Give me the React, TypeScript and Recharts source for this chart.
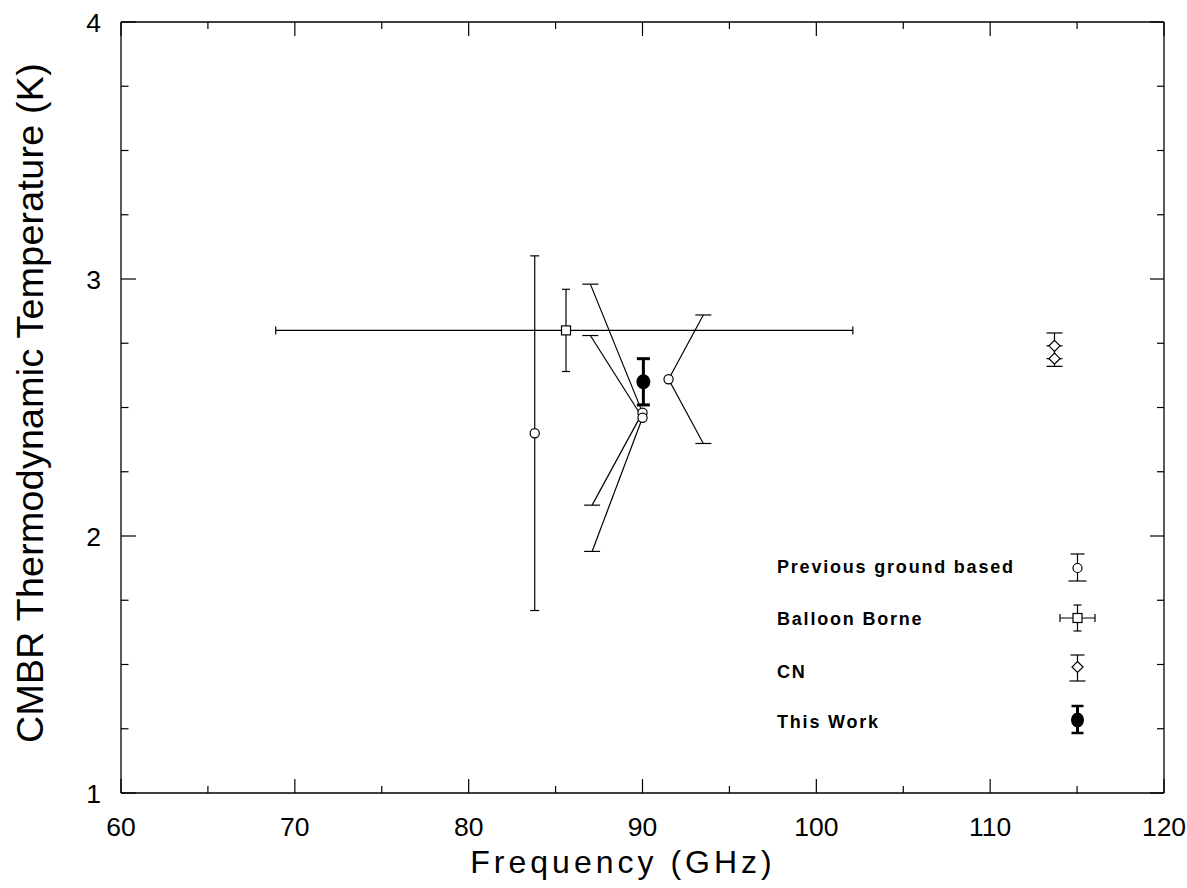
import React from 'react';
import { ScatterChart, Scatter, XAxis, YAxis, Legend } from 'recharts';

const FONT = '"Liberation Sans", Arial, Helvetica, sans-serif';

// ---- data ----
const groundFreq = [83.8, 90.0, 90.0, 91.5];
const groundTemp = [2.4, 2.48, 2.46, 2.61];
const groundUpperFreq = [83.8, 87.0, 87.0, 93.5];
const groundUpperTemp = [3.09, 2.98, 2.78, 2.86];
const groundLowerFreq = [83.8, 87.1, 87.1, 93.5];
const groundLowerTemp = [1.71, 2.12, 1.94, 2.36];

const balloonFreq = [85.6];
const balloonTemp = [2.8];
const balloonTempLow = [2.64];
const balloonTempHigh = [2.96];
const balloonFreqLow = [68.9];
const balloonFreqHigh = [102.1];

const cnFreq = [113.7, 113.7];
const cnTemp = [2.74, 2.69];
const cnTempLow = [2.69, 2.66];
const cnTempHigh = [2.79, 2.74];

const thisFreq = [90.05];
const thisTemp = [2.6];
const thisTempLow = [2.51];
const thisTempHigh = [2.69];

const xTicks = [60, 65, 70, 75, 80, 85, 90, 95, 100, 105, 110, 115, 120];
const xLabels = [60, 70, 80, 90, 100, 110, 120];
const yTicks = [1, 1.25, 1.5, 1.75, 2, 2.25, 2.5, 2.75, 3, 3.25, 3.5, 3.75, 4];
const yLabels = [1, 2, 3, 4];
const legendLabels = ['Previous ground based', 'Balloon Borne', 'CN', 'This Work'];

// ---- derived tables ----
type Pt = { x: number; y: number; cap?: 'h' | 'v' };
type Seg = { key: string; pts: Pt[]; half: number; w: number };

const segments: Seg[] = [];
groundFreq.forEach((f, i) => {
  const half = i === 0 ? 4.5 : 8;
  segments.push({
    key: `gu${i}`,
    pts: [{ x: f, y: groundTemp[i] }, { x: groundUpperFreq[i], y: groundUpperTemp[i], cap: 'h' }],
    half,
    w: 1.2,
  });
  segments.push({
    key: `gl${i}`,
    pts: [{ x: f, y: groundTemp[i] }, { x: groundLowerFreq[i], y: groundLowerTemp[i], cap: 'h' }],
    half,
    w: 1.2,
  });
});
balloonFreq.forEach((f, i) => {
  segments.push({
    key: `bv${i}`,
    pts: [{ x: f, y: balloonTempLow[i], cap: 'h' }, { x: f, y: balloonTempHigh[i], cap: 'h' }],
    half: 4,
    w: 1.2,
  });
  segments.push({
    key: `bh${i}`,
    pts: [{ x: balloonFreqLow[i], y: balloonTemp[i], cap: 'v' }, { x: balloonFreqHigh[i], y: balloonTemp[i], cap: 'v' }],
    half: 4,
    w: 1.2,
  });
});
cnFreq.forEach((f, i) => {
  segments.push({
    key: `cn${i}`,
    pts: [{ x: f, y: cnTempLow[i], cap: 'h' }, { x: f, y: cnTempHigh[i], cap: 'h' }],
    half: 8,
    w: 1.2,
  });
});
thisFreq.forEach((f, i) => {
  segments.push({
    key: `tw${i}`,
    pts: [{ x: f, y: thisTempLow[i], cap: 'h' }, { x: f, y: thisTempHigh[i], cap: 'h' }],
    half: 6.5,
    w: 3,
  });
});

const groundData = groundFreq.map((x, i) => ({ x, y: groundTemp[i] }));
const balloonData = balloonFreq.map((x, i) => ({ x, y: balloonTemp[i] }));
const cnData = cnFreq.map((x, i) => ({ x, y: cnTemp[i] }));
const thisData = thisFreq.map((x, i) => ({ x, y: thisTemp[i] }));

// ---- shapes ----
const capShape = (half: number, w: number) => (p: any) => {
  const { cx, cy, payload } = p;
  if (payload && payload.cap === 'h')
    return <line x1={cx - half} x2={cx + half} y1={cy} y2={cy} stroke="#000" strokeWidth={w} />;
  if (payload && payload.cap === 'v')
    return <line x1={cx} x2={cx} y1={cy - half} y2={cy + half} stroke="#000" strokeWidth={w} />;
  return <g />;
};
const circleShape = (p: any) => (
  <circle cx={p.cx} cy={p.cy} r={4.6} fill="#fff" stroke="#000" strokeWidth={1.2} />
);
const squareShape = (p: any) => (
  <rect x={p.cx - 4.5} y={p.cy - 4.5} width={9} height={9} fill="#fff" stroke="#000" strokeWidth={1.2} />
);
const diamondShape = (p: any) => (
  <path
    d={`M${p.cx},${p.cy - 5.5}L${p.cx + 5.5},${p.cy}L${p.cx},${p.cy + 5.5}L${p.cx - 5.5},${p.cy}Z`}
    fill="#fff"
    stroke="#000"
    strokeWidth={1.2}
  />
);
const filledShape = (p: any) => <ellipse cx={p.cx} cy={p.cy} rx={7} ry={7.5} fill="#000" />;

// ---- ticks ----
const BottomTick = (p: any) => {
  const v = p.payload.value;
  const major = xLabels.includes(v);
  return (
    <g>
      <line x1={p.x} x2={p.x} y1={p.y} y2={p.y - (major ? 14 : 7)} stroke="#000" strokeWidth={1.2} />
      {major && (
        <text x={p.x} y={p.y + 43} textAnchor="middle" fontSize={26.5} fontFamily={FONT} fill="#000">
          {v}
        </text>
      )}
    </g>
  );
};
const TopTick = (p: any) => {
  const v = p.payload.value;
  const major = xLabels.includes(v);
  return <line x1={p.x} x2={p.x} y1={p.y} y2={p.y + (major ? 14 : 7)} stroke="#000" strokeWidth={1.2} />;
};
const LeftTick = (p: any) => {
  const v = p.payload.value;
  const major = yLabels.includes(v);
  return (
    <g>
      <line x1={p.x} x2={p.x + (major ? 15 : 7.5)} y1={p.y} y2={p.y} stroke="#000" strokeWidth={1.2} />
      {major && (
        <text x={p.x - 20} y={p.y + 9.5} textAnchor="end" fontSize={26.5} fontFamily={FONT} fill="#000">
          {v}
        </text>
      )}
    </g>
  );
};
const RightTick = (p: any) => {
  const v = p.payload.value;
  const major = yLabels.includes(v);
  return <line x1={p.x} x2={p.x - (major ? 14 : 7)} y1={p.y} y2={p.y} stroke="#000" strokeWidth={1.2} />;
};

const XTitle = () => (
  <text x={623} y={873} textAnchor="middle" fontSize={32} fontFamily={FONT} letterSpacing="4" fill="#000">
    Frequency (GHz)
  </text>
);
const YTitle = () => (
  <text
    transform="rotate(-90)"
    x={-403}
    y={43}
    textAnchor="middle"
    fontSize={37.5}
    fontFamily={FONT}
    letterSpacing="0.3"
    fill="#000"
  >
    CMBR Thermodynamic Temperature (K)
  </text>
);

// ---- legend ----
const LegendBox = () => {
  const ox = 760;
  const oy = 540;
  const rows = [573, 625, 678, 728];
  const sx = 1077.5 - ox;
  const L = (x1: number, y1: number, x2: number, y2: number, w = 1.2) => (
    <line x1={x1} y1={y1} x2={x2} y2={y2} stroke="#000" strokeWidth={w} />
  );
  return (
    <svg width={360} height={210} style={{ display: 'block' }}>
      {legendLabels.map((t, i) => (
        <text
          key={t}
          x={777 - ox}
          y={rows[i] - oy}
          fontSize={18}
          fontWeight="bold"
          letterSpacing="1.8"
          fontFamily={FONT}
          fill="#000"
        >
          {t}
        </text>
      ))}
      {/* previous ground based */}
      {L(sx, 554 - oy, sx, 581 - oy)}
      {L(sx - 7, 554 - oy, sx + 7, 554 - oy)}
      {L(sx - 9, 581 - oy, sx + 9, 581 - oy)}
      <circle cx={sx} cy={568 - oy} r={4.5} fill="#fff" stroke="#000" strokeWidth={1.2} />
      {/* balloon */}
      {L(sx, 605 - oy, sx, 631 - oy)}
      {L(sx - 4, 605 - oy, sx + 4, 605 - oy)}
      {L(sx - 4, 631 - oy, sx + 4, 631 - oy)}
      {L(1060 - ox, 618 - oy, 1095 - ox, 618 - oy)}
      {L(1060 - ox, 614 - oy, 1060 - ox, 622 - oy)}
      {L(1095 - ox, 614 - oy, 1095 - ox, 622 - oy)}
      <rect x={sx - 4.5} y={618 - oy - 4.5} width={9} height={9} fill="#fff" stroke="#000" strokeWidth={1.2} />
      {/* CN */}
      {L(sx, 655 - oy, sx, 681 - oy)}
      {L(sx - 7, 655 - oy, sx + 7, 655 - oy)}
      {L(sx - 8, 681 - oy, sx + 8, 681 - oy)}
      <path
        d={`M${sx},${667 - oy - 5.5}L${sx + 5.5},${667 - oy}L${sx},${667 - oy + 5.5}L${sx - 5.5},${667 - oy}Z`}
        fill="#fff"
        stroke="#000"
        strokeWidth={1.2}
      />
      {/* this work */}
      {L(sx, 706 - oy, sx, 733 - oy, 3)}
      {L(sx - 6, 706 - oy, sx + 6, 706 - oy, 2.5)}
      {L(sx - 6, 733 - oy, sx + 6, 733 - oy, 2.5)}
      <ellipse cx={sx} cy={720 - oy} rx={6.5} ry={7.5} fill="#000" />
    </svg>
  );
};

export default function App() {
  return (
    <div style={{ width: 1187, height: 888, background: '#fff' }}>
      <style>{'body{margin:0;background:#fff}'}</style>
      <ScatterChart width={1187} height={888} margin={{ top: 0, right: 0, bottom: 0, left: 0 }}>
        <XAxis
          xAxisId={0}
          type="number"
          dataKey="x"
          domain={[60, 120]}
          allowDataOverflow
          ticks={xTicks}
          interval={0}
          tickSize={0}
          tickMargin={0}
          tickLine={false}
          height={95}
          axisLine={{ stroke: '#000', strokeWidth: 1.3 }}
          tick={BottomTick}
          label={<XTitle />}
        />
        <XAxis
          xAxisId="top"
          orientation="top"
          type="number"
          dataKey="x"
          domain={[60, 120]}
          allowDataOverflow
          ticks={xTicks}
          interval={0}
          tickSize={0}
          tickMargin={0}
          tickLine={false}
          height={22}
          axisLine={{ stroke: '#000', strokeWidth: 1.3 }}
          tick={TopTick}
        />
        <YAxis
          yAxisId={0}
          type="number"
          dataKey="y"
          domain={[1, 4]}
          allowDataOverflow
          ticks={yTicks}
          interval={0}
          tickSize={0}
          tickMargin={0}
          tickLine={false}
          width={121}
          axisLine={{ stroke: '#000', strokeWidth: 1.3 }}
          tick={LeftTick}
          label={<YTitle />}
        />
        <YAxis
          yAxisId="right"
          orientation="right"
          type="number"
          dataKey="y"
          domain={[1, 4]}
          allowDataOverflow
          ticks={yTicks}
          interval={0}
          tickSize={0}
          tickMargin={0}
          tickLine={false}
          width={23}
          axisLine={{ stroke: '#000', strokeWidth: 1.3 }}
          tick={RightTick}
        />
        {segments.map((s) => (
          <Scatter
            key={s.key}
            data={s.pts}
            fill="#000"
            line={{ stroke: '#000', strokeWidth: s.w }}
            lineType="joint"
            shape={capShape(s.half, s.w)}
            isAnimationActive={false}
            legendType="none"
          />
        ))}
        <Scatter data={groundData} shape={circleShape} isAnimationActive={false} name={legendLabels[0]} />
        <Scatter data={balloonData} shape={squareShape} isAnimationActive={false} name={legendLabels[1]} />
        <Scatter data={cnData} shape={diamondShape} isAnimationActive={false} name={legendLabels[2]} />
        <Scatter data={thisData} shape={filledShape} isAnimationActive={false} name={legendLabels[3]} />
        <Legend
          layout="vertical"
          align="center"
          verticalAlign="middle"
          content={() => <LegendBox />}
          wrapperStyle={{ position: 'absolute', left: 760, top: 540, width: 360, height: 210, margin: 0, padding: 0 }}
        />
      </ScatterChart>
    </div>
  );
}
